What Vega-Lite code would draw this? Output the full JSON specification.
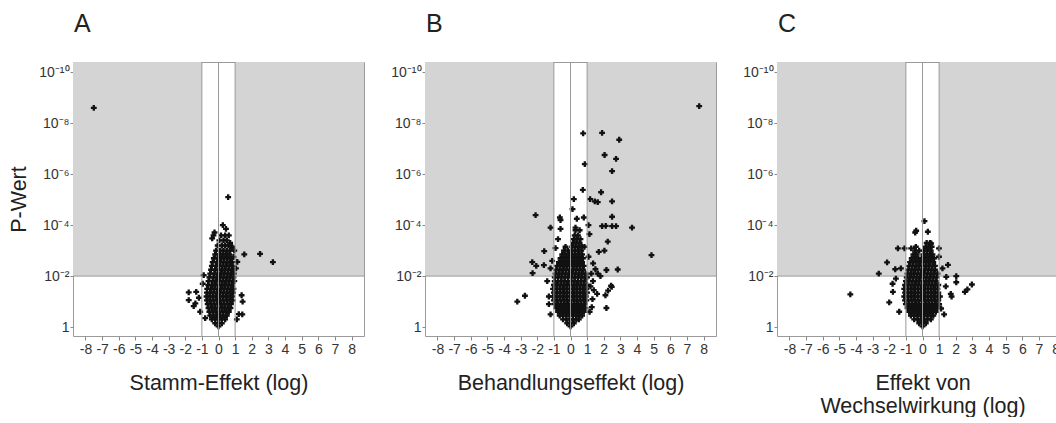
{
"$schema": "https://vega.github.io/schema/vega-lite/v6.json",
"background": "white",
"padding": {"left": 8, "top": 11, "right": 0, "bottom": 0},
"bounds": "flush",
"spacing": 61,
"config": {
 "font": "Liberation Sans",
 "view": {"stroke": "#9a9a9a", "strokeWidth": 1},
 "axis": {"grid": false, "domain": false, "tickColor": "#8a8a8a", "labelColor": "#333", "titleColor": "#222", "labelFont": "Liberation Sans", "titleFont": "Liberation Sans", "titleFontWeight": "normal", "labelFontSize": 14, "titleFontSize": 21.5},
 "title": {"fontSize": 25, "fontWeight": "normal", "anchor": "start", "frame": "group", "color": "#222", "font": "Liberation Sans", "offset": 25, "dx": 1}
},
"datasets": {
 "bg": [{"x": -8.75, "x2": -1, "y": 2, "y2": 10.4}, {"x": 1, "x2": 8.75, "y": 2, "y2": 10.4}],
 "vr": [{"x": -1, "y": -0.35, "y2": 10.4}, {"x": 0, "y": -0.35, "y2": 10.4}, {"x": 1, "y": -0.35, "y2": 10.4}],
 "hr": [{"x": -8.75, "x2": 8.75, "y": 2}],
 "A": [
  {"x":0,"y":0.03},
  {"x":-0.2,"y":0.15},{"x":0,"y":0.15},{"x":0.2,"y":0.15},
  {"x":-0.4,"y":0.3},{"x":-0.2,"y":0.3},{"x":0,"y":0.3},{"x":0.2,"y":0.3},{"x":0.4,"y":0.3},
  {"x":-0.5,"y":0.45},{"x":-0.3,"y":0.45},{"x":-0.1,"y":0.45},{"x":0.1,"y":0.45},{"x":0.3,"y":0.45},{"x":0.5,"y":0.45},
  {"x":-0.55,"y":0.6},{"x":-0.35,"y":0.6},{"x":-0.15,"y":0.6},{"x":0.05,"y":0.6},{"x":0.25,"y":0.6},{"x":0.45,"y":0.6},{"x":0.62,"y":0.6},
  {"x":-0.6,"y":0.75},{"x":-0.4,"y":0.75},{"x":-0.2,"y":0.75},{"x":0,"y":0.75},{"x":0.2,"y":0.75},{"x":0.4,"y":0.75},{"x":0.6,"y":0.75},{"x":0.72,"y":0.75},
  {"x":-0.65,"y":0.9},{"x":-0.45,"y":0.9},{"x":-0.25,"y":0.9},{"x":-0.05,"y":0.9},{"x":0.15,"y":0.9},{"x":0.35,"y":0.9},{"x":0.55,"y":0.9},{"x":0.75,"y":0.9},
  {"x":-0.7,"y":1.05},{"x":-0.5,"y":1.05},{"x":-0.3,"y":1.05},{"x":-0.1,"y":1.05},{"x":0.1,"y":1.05},{"x":0.3,"y":1.05},{"x":0.5,"y":1.05},{"x":0.7,"y":1.05},{"x":0.85,"y":1.05},
  {"x":-0.72,"y":1.2},{"x":-0.55,"y":1.2},{"x":-0.35,"y":1.2},{"x":-0.15,"y":1.2},{"x":0.05,"y":1.2},{"x":0.25,"y":1.2},{"x":0.45,"y":1.2},{"x":0.65,"y":1.2},{"x":0.82,"y":1.2},
  {"x":-0.7,"y":1.35},{"x":-0.5,"y":1.35},{"x":-0.3,"y":1.35},{"x":-0.1,"y":1.35},{"x":0.1,"y":1.35},{"x":0.3,"y":1.35},{"x":0.5,"y":1.35},{"x":0.7,"y":1.35},{"x":0.88,"y":1.35},
  {"x":-0.68,"y":1.5},{"x":-0.45,"y":1.5},{"x":-0.25,"y":1.5},{"x":-0.05,"y":1.5},{"x":0.15,"y":1.5},{"x":0.35,"y":1.5},{"x":0.55,"y":1.5},{"x":0.75,"y":1.5},{"x":0.9,"y":1.5},
  {"x":-0.62,"y":1.65},{"x":-0.4,"y":1.65},{"x":-0.2,"y":1.65},{"x":0,"y":1.65},{"x":0.2,"y":1.65},{"x":0.4,"y":1.65},{"x":0.6,"y":1.65},{"x":0.8,"y":1.65},
  {"x":-0.6,"y":1.8},{"x":-0.35,"y":1.8},{"x":-0.15,"y":1.8},{"x":0.05,"y":1.8},{"x":0.25,"y":1.8},{"x":0.45,"y":1.8},{"x":0.65,"y":1.8},{"x":0.85,"y":1.8},{"x":0.95,"y":1.8},
  {"x":-0.55,"y":1.95},{"x":-0.3,"y":1.95},{"x":-0.1,"y":1.95},{"x":0.1,"y":1.95},{"x":0.3,"y":1.95},{"x":0.5,"y":1.95},{"x":0.7,"y":1.95},{"x":0.9,"y":1.95},
  {"x":-0.5,"y":2.1},{"x":-0.25,"y":2.1},{"x":-0.05,"y":2.1},{"x":0.15,"y":2.1},{"x":0.35,"y":2.1},{"x":0.55,"y":2.1},{"x":0.75,"y":2.1},{"x":0.92,"y":2.1},
  {"x":-0.45,"y":2.25},{"x":-0.2,"y":2.25},{"x":0,"y":2.25},{"x":0.2,"y":2.25},{"x":0.4,"y":2.25},{"x":0.6,"y":2.25},{"x":0.8,"y":2.25},
  {"x":-0.4,"y":2.4},{"x":-0.15,"y":2.4},{"x":0.05,"y":2.4},{"x":0.25,"y":2.4},{"x":0.45,"y":2.4},{"x":0.65,"y":2.4},{"x":0.85,"y":2.4},
  {"x":-0.35,"y":2.55},{"x":-0.1,"y":2.55},{"x":0.1,"y":2.55},{"x":0.3,"y":2.55},{"x":0.5,"y":2.55},{"x":0.7,"y":2.55},{"x":0.82,"y":2.55},
  {"x":-0.28,"y":2.7},{"x":-0.05,"y":2.7},{"x":0.15,"y":2.7},{"x":0.35,"y":2.7},{"x":0.55,"y":2.7},{"x":0.75,"y":2.7},
  {"x":-0.2,"y":2.85},{"x":0.05,"y":2.85},{"x":0.25,"y":2.85},{"x":0.45,"y":2.85},{"x":0.65,"y":2.85},
  {"x":-0.15,"y":3.0},{"x":0.1,"y":3.0},{"x":0.3,"y":3.0},{"x":0.5,"y":3.0},{"x":0.7,"y":3.0},
  {"x":-0.05,"y":3.2},{"x":0.2,"y":3.2},{"x":0.4,"y":3.2},{"x":0.6,"y":3.2},
  {"x":0.05,"y":3.4},{"x":0.3,"y":3.4},{"x":0.5,"y":3.4},
  {"x":-0.3,"y":3.6},{"x":0.15,"y":3.6},{"x":0.4,"y":3.6},
  {"x":-7.5,"y":8.6},{"x":0.58,"y":5.1},{"x":1.55,"y":2.85},{"x":2.5,"y":2.87},{"x":3.27,"y":2.55},
  {"x":-1.79,"y":1.36},{"x":-1.79,"y":1.06},{"x":-1.34,"y":1.38},{"x":-1.39,"y":0.93},{"x":-1.18,"y":1.15},{"x":-1.49,"y":0.82},
  {"x":-0.89,"y":2.04},{"x":-0.95,"y":1.7},{"x":1.39,"y":1.25},{"x":1.45,"y":1.0},{"x":1.43,"y":0.5},{"x":1.22,"y":0.51},
  {"x":1.13,"y":2.56},{"x":0.82,"y":3.15},{"x":0.62,"y":3.6},{"x":0.26,"y":4.0},{"x":-0.24,"y":3.71},{"x":-0.38,"y":3.48},
  {"x":0.9,"y":2.75},{"x":1.05,"y":2.3},{"x":-1.1,"y":0.6},{"x":1.1,"y":0.3},{"x":-0.8,"y":0.35},{"x":0.95,"y":3.0},{"x":0.45,"y":3.85},{"x":0.7,"y":3.3}
 ],
 "B": [
  {"x":0,"y":0.03},
  {"x":-0.2,"y":0.15},{"x":0,"y":0.15},{"x":0.2,"y":0.15},
  {"x":-0.45,"y":0.3},{"x":-0.25,"y":0.3},{"x":-0.05,"y":0.3},{"x":0.15,"y":0.3},{"x":0.35,"y":0.3},{"x":0.5,"y":0.3},
  {"x":-0.65,"y":0.45},{"x":-0.45,"y":0.45},{"x":-0.25,"y":0.45},{"x":-0.05,"y":0.45},{"x":0.15,"y":0.45},{"x":0.35,"y":0.45},{"x":0.55,"y":0.45},{"x":0.7,"y":0.45},
  {"x":-0.75,"y":0.6},{"x":-0.55,"y":0.6},{"x":-0.35,"y":0.6},{"x":-0.15,"y":0.6},{"x":0.05,"y":0.6},{"x":0.25,"y":0.6},{"x":0.45,"y":0.6},{"x":0.65,"y":0.6},{"x":0.8,"y":0.6},
  {"x":-0.85,"y":0.75},{"x":-0.65,"y":0.75},{"x":-0.45,"y":0.75},{"x":-0.25,"y":0.75},{"x":-0.05,"y":0.75},{"x":0.15,"y":0.75},{"x":0.35,"y":0.75},{"x":0.55,"y":0.75},{"x":0.75,"y":0.75},{"x":0.9,"y":0.75},
  {"x":-0.95,"y":0.9},{"x":-0.75,"y":0.9},{"x":-0.55,"y":0.9},{"x":-0.35,"y":0.9},{"x":-0.15,"y":0.9},{"x":0.05,"y":0.9},{"x":0.25,"y":0.9},{"x":0.45,"y":0.9},{"x":0.65,"y":0.9},{"x":0.85,"y":0.9},
  {"x":-1.0,"y":1.05},{"x":-0.8,"y":1.05},{"x":-0.6,"y":1.05},{"x":-0.4,"y":1.05},{"x":-0.2,"y":1.05},{"x":0,"y":1.05},{"x":0.2,"y":1.05},{"x":0.4,"y":1.05},{"x":0.6,"y":1.05},{"x":0.8,"y":1.05},{"x":0.95,"y":1.05},
  {"x":-1.05,"y":1.2},{"x":-0.85,"y":1.2},{"x":-0.65,"y":1.2},{"x":-0.45,"y":1.2},{"x":-0.25,"y":1.2},{"x":-0.05,"y":1.2},{"x":0.15,"y":1.2},{"x":0.35,"y":1.2},{"x":0.55,"y":1.2},{"x":0.75,"y":1.2},{"x":0.92,"y":1.2},
  {"x":-1.0,"y":1.35},{"x":-0.8,"y":1.35},{"x":-0.6,"y":1.35},{"x":-0.4,"y":1.35},{"x":-0.2,"y":1.35},{"x":0,"y":1.35},{"x":0.2,"y":1.35},{"x":0.4,"y":1.35},{"x":0.6,"y":1.35},{"x":0.8,"y":1.35},{"x":1.0,"y":1.35},
  {"x":-1.05,"y":1.5},{"x":-0.85,"y":1.5},{"x":-0.65,"y":1.5},{"x":-0.45,"y":1.5},{"x":-0.25,"y":1.5},{"x":-0.05,"y":1.5},{"x":0.15,"y":1.5},{"x":0.35,"y":1.5},{"x":0.55,"y":1.5},{"x":0.75,"y":1.5},{"x":0.95,"y":1.5},
  {"x":-1.0,"y":1.65},{"x":-0.8,"y":1.65},{"x":-0.6,"y":1.65},{"x":-0.4,"y":1.65},{"x":-0.2,"y":1.65},{"x":0,"y":1.65},{"x":0.2,"y":1.65},{"x":0.4,"y":1.65},{"x":0.6,"y":1.65},{"x":0.8,"y":1.65},{"x":1.0,"y":1.65},
  {"x":-0.95,"y":1.8},{"x":-0.75,"y":1.8},{"x":-0.55,"y":1.8},{"x":-0.35,"y":1.8},{"x":-0.15,"y":1.8},{"x":0.05,"y":1.8},{"x":0.25,"y":1.8},{"x":0.45,"y":1.8},{"x":0.65,"y":1.8},{"x":0.85,"y":1.8},
  {"x":-0.95,"y":1.95},{"x":-0.75,"y":1.95},{"x":-0.55,"y":1.95},{"x":-0.35,"y":1.95},{"x":-0.15,"y":1.95},{"x":0.05,"y":1.95},{"x":0.25,"y":1.95},{"x":0.45,"y":1.95},{"x":0.65,"y":1.95},{"x":0.85,"y":1.95},{"x":1.0,"y":1.95},
  {"x":-0.9,"y":2.1},{"x":-0.7,"y":2.1},{"x":-0.5,"y":2.1},{"x":-0.3,"y":2.1},{"x":-0.1,"y":2.1},{"x":0.1,"y":2.1},{"x":0.3,"y":2.1},{"x":0.5,"y":2.1},{"x":0.7,"y":2.1},{"x":0.9,"y":2.1},
  {"x":-0.85,"y":2.25},{"x":-0.65,"y":2.25},{"x":-0.45,"y":2.25},{"x":-0.25,"y":2.25},{"x":-0.05,"y":2.25},{"x":0.15,"y":2.25},{"x":0.35,"y":2.25},{"x":0.55,"y":2.25},{"x":0.75,"y":2.25},
  {"x":-0.8,"y":2.4},{"x":-0.6,"y":2.4},{"x":-0.4,"y":2.4},{"x":-0.2,"y":2.4},{"x":0,"y":2.4},{"x":0.2,"y":2.4},{"x":0.4,"y":2.4},{"x":0.6,"y":2.4},{"x":0.8,"y":2.4},
  {"x":-0.7,"y":2.55},{"x":-0.5,"y":2.55},{"x":-0.3,"y":2.55},{"x":-0.1,"y":2.55},{"x":0.1,"y":2.55},{"x":0.3,"y":2.55},{"x":0.5,"y":2.55},{"x":0.7,"y":2.55},
  {"x":-0.6,"y":2.7},{"x":-0.4,"y":2.7},{"x":-0.2,"y":2.7},{"x":0,"y":2.7},{"x":0.2,"y":2.7},{"x":0.4,"y":2.7},{"x":0.6,"y":2.7},{"x":0.75,"y":2.7},
  {"x":-0.5,"y":2.85},{"x":-0.3,"y":2.85},{"x":-0.1,"y":2.85},{"x":0.1,"y":2.85},{"x":0.3,"y":2.85},{"x":0.5,"y":2.85},{"x":0.7,"y":2.85},
  {"x":-0.4,"y":3.0},{"x":-0.15,"y":3.0},{"x":0.05,"y":3.0},{"x":0.25,"y":3.0},{"x":0.45,"y":3.0},{"x":0.65,"y":3.0},
  {"x":-0.3,"y":3.15},{"x":0.1,"y":3.15},{"x":0.3,"y":3.15},{"x":0.5,"y":3.15},{"x":0.7,"y":3.15},
  {"x":0.15,"y":3.3},{"x":0.35,"y":3.3},{"x":0.55,"y":3.3},
  {"x":0.2,"y":3.45},{"x":0.4,"y":3.45},{"x":0.6,"y":3.45},
  {"x":0.25,"y":3.6},{"x":0.45,"y":3.6},
  {"x":0.3,"y":3.8},{"x":0.55,"y":3.8},
  {"x":7.74,"y":8.67},{"x":0.76,"y":7.6},{"x":1.9,"y":7.62},{"x":2.93,"y":7.35},{"x":2.05,"y":6.75},{"x":2.74,"y":6.6},{"x":2.5,"y":6.12},{"x":0.86,"y":6.39},
  {"x":0.74,"y":5.38},{"x":1.84,"y":5.29},{"x":1.18,"y":5.02},{"x":1.46,"y":4.93},{"x":1.64,"y":4.9},{"x":2.5,"y":4.93},{"x":2.5,"y":4.33},{"x":-2.1,"y":4.39},
  {"x":-1.2,"y":3.9},{"x":-0.64,"y":4.3},{"x":-0.6,"y":4.2},{"x":-0.6,"y":3.85},{"x":0.2,"y":5.02},{"x":0.12,"y":4.63},{"x":0.38,"y":4.25},{"x":0.3,"y":3.9},
  {"x":0.8,"y":4.3},{"x":1.08,"y":4.0},{"x":1.14,"y":3.65},{"x":2.12,"y":3.97},{"x":2.5,"y":3.96},{"x":2.74,"y":3.96},{"x":1.9,"y":3.96},{"x":3.7,"y":3.9},
  {"x":4.87,"y":2.82},{"x":2.24,"y":3.35},{"x":1.7,"y":2.95},{"x":2.04,"y":3.0},{"x":2.84,"y":2.26},{"x":2.16,"y":2.24},{"x":1.64,"y":2.1},{"x":1.5,"y":2.27},
  {"x":1.36,"y":2.5},{"x":1.08,"y":2.76},{"x":0.84,"y":3.15},{"x":-1.58,"y":2.98},{"x":-2.3,"y":2.55},{"x":-2.06,"y":2.4},{"x":-2.28,"y":2.12},{"x":-1.6,"y":2.43},
  {"x":-3.2,"y":1.0},{"x":-2.74,"y":1.23},{"x":2.16,"y":0.75},{"x":2.1,"y":1.25},{"x":2.48,"y":1.58},{"x":2.44,"y":1.62},{"x":2.26,"y":1.43},{"x":1.4,"y":1.45},
  {"x":1.35,"y":1.8},{"x":1.32,"y":1.1},{"x":1.28,"y":0.78},{"x":-1.3,"y":1.2},{"x":-1.4,"y":1.8},{"x":-1.2,"y":2.3},{"x":1.2,"y":1.6},{"x":1.25,"y":2.1},
  {"x":1.15,"y":0.6},{"x":-1.1,"y":2.6},{"x":-0.9,"y":3.1},{"x":-0.75,"y":3.45},{"x":-1.2,"y":0.5},{"x":-1.3,"y":0.9},{"x":1.6,"y":1.3},{"x":1.8,"y":2.0}
 ],
 "C": [
  {"x":0,"y":0.03},
  {"x":-0.2,"y":0.15},{"x":0,"y":0.15},{"x":0.2,"y":0.15},
  {"x":-0.5,"y":0.3},{"x":-0.3,"y":0.3},{"x":-0.1,"y":0.3},{"x":0.1,"y":0.3},{"x":0.3,"y":0.3},{"x":0.5,"y":0.3},
  {"x":-0.7,"y":0.45},{"x":-0.5,"y":0.45},{"x":-0.3,"y":0.45},{"x":-0.1,"y":0.45},{"x":0.1,"y":0.45},{"x":0.3,"y":0.45},{"x":0.5,"y":0.45},{"x":0.65,"y":0.45},
  {"x":-0.8,"y":0.6},{"x":-0.6,"y":0.6},{"x":-0.4,"y":0.6},{"x":-0.2,"y":0.6},{"x":0,"y":0.6},{"x":0.2,"y":0.6},{"x":0.4,"y":0.6},{"x":0.6,"y":0.6},{"x":0.8,"y":0.6},
  {"x":-0.9,"y":0.75},{"x":-0.7,"y":0.75},{"x":-0.5,"y":0.75},{"x":-0.3,"y":0.75},{"x":-0.1,"y":0.75},{"x":0.1,"y":0.75},{"x":0.3,"y":0.75},{"x":0.5,"y":0.75},{"x":0.7,"y":0.75},{"x":0.88,"y":0.75},
  {"x":-1.0,"y":0.9},{"x":-0.8,"y":0.9},{"x":-0.6,"y":0.9},{"x":-0.4,"y":0.9},{"x":-0.2,"y":0.9},{"x":0,"y":0.9},{"x":0.2,"y":0.9},{"x":0.4,"y":0.9},{"x":0.6,"y":0.9},{"x":0.8,"y":0.9},{"x":1.0,"y":0.9},
  {"x":-1.05,"y":1.05},{"x":-0.85,"y":1.05},{"x":-0.65,"y":1.05},{"x":-0.45,"y":1.05},{"x":-0.25,"y":1.05},{"x":-0.05,"y":1.05},{"x":0.15,"y":1.05},{"x":0.35,"y":1.05},{"x":0.55,"y":1.05},{"x":0.75,"y":1.05},{"x":0.95,"y":1.05},
  {"x":-1.1,"y":1.2},{"x":-0.9,"y":1.2},{"x":-0.7,"y":1.2},{"x":-0.5,"y":1.2},{"x":-0.3,"y":1.2},{"x":-0.1,"y":1.2},{"x":0.1,"y":1.2},{"x":0.3,"y":1.2},{"x":0.5,"y":1.2},{"x":0.7,"y":1.2},{"x":0.9,"y":1.2},{"x":1.05,"y":1.2},
  {"x":-1.05,"y":1.35},{"x":-0.85,"y":1.35},{"x":-0.65,"y":1.35},{"x":-0.45,"y":1.35},{"x":-0.25,"y":1.35},{"x":-0.05,"y":1.35},{"x":0.15,"y":1.35},{"x":0.35,"y":1.35},{"x":0.55,"y":1.35},{"x":0.75,"y":1.35},{"x":0.95,"y":1.35},
  {"x":-1.1,"y":1.5},{"x":-0.9,"y":1.5},{"x":-0.7,"y":1.5},{"x":-0.5,"y":1.5},{"x":-0.3,"y":1.5},{"x":-0.1,"y":1.5},{"x":0.1,"y":1.5},{"x":0.3,"y":1.5},{"x":0.5,"y":1.5},{"x":0.7,"y":1.5},{"x":0.9,"y":1.5},
  {"x":-1.05,"y":1.65},{"x":-0.85,"y":1.65},{"x":-0.65,"y":1.65},{"x":-0.45,"y":1.65},{"x":-0.25,"y":1.65},{"x":-0.05,"y":1.65},{"x":0.15,"y":1.65},{"x":0.35,"y":1.65},{"x":0.55,"y":1.65},{"x":0.75,"y":1.65},{"x":0.95,"y":1.65},
  {"x":-1.0,"y":1.8},{"x":-0.8,"y":1.8},{"x":-0.6,"y":1.8},{"x":-0.4,"y":1.8},{"x":-0.2,"y":1.8},{"x":0,"y":1.8},{"x":0.2,"y":1.8},{"x":0.4,"y":1.8},{"x":0.6,"y":1.8},{"x":0.8,"y":1.8},
  {"x":-0.95,"y":1.95},{"x":-0.75,"y":1.95},{"x":-0.55,"y":1.95},{"x":-0.35,"y":1.95},{"x":-0.15,"y":1.95},{"x":0.05,"y":1.95},{"x":0.25,"y":1.95},{"x":0.45,"y":1.95},{"x":0.65,"y":1.95},{"x":0.85,"y":1.95},
  {"x":-0.9,"y":2.1},{"x":-0.7,"y":2.1},{"x":-0.5,"y":2.1},{"x":-0.3,"y":2.1},{"x":-0.1,"y":2.1},{"x":0.1,"y":2.1},{"x":0.3,"y":2.1},{"x":0.5,"y":2.1},{"x":0.7,"y":2.1},{"x":0.9,"y":2.1},
  {"x":-0.85,"y":2.25},{"x":-0.65,"y":2.25},{"x":-0.45,"y":2.25},{"x":-0.25,"y":2.25},{"x":-0.05,"y":2.25},{"x":0.15,"y":2.25},{"x":0.35,"y":2.25},{"x":0.55,"y":2.25},{"x":0.75,"y":2.25},
  {"x":-0.8,"y":2.4},{"x":-0.6,"y":2.4},{"x":-0.4,"y":2.4},{"x":-0.2,"y":2.4},{"x":0,"y":2.4},{"x":0.2,"y":2.4},{"x":0.4,"y":2.4},{"x":0.6,"y":2.4},{"x":0.75,"y":2.4},
  {"x":-0.75,"y":2.55},{"x":-0.55,"y":2.55},{"x":-0.35,"y":2.55},{"x":-0.15,"y":2.55},{"x":0.05,"y":2.55},{"x":0.25,"y":2.55},{"x":0.45,"y":2.55},{"x":0.65,"y":2.55},
  {"x":-0.65,"y":2.7},{"x":-0.45,"y":2.7},{"x":-0.25,"y":2.7},{"x":-0.05,"y":2.7},{"x":0.15,"y":2.7},{"x":0.35,"y":2.7},{"x":0.55,"y":2.7},{"x":0.7,"y":2.7},
  {"x":-0.55,"y":2.85},{"x":-0.35,"y":2.85},{"x":0.05,"y":2.85},{"x":0.25,"y":2.85},{"x":0.45,"y":2.85},{"x":0.6,"y":2.85},
  {"x":-0.45,"y":3.0},{"x":-0.2,"y":3.0},{"x":0.1,"y":3.0},{"x":0.3,"y":3.0},{"x":0.5,"y":3.0},
  {"x":-0.4,"y":3.15},{"x":0.2,"y":3.15},{"x":0.4,"y":3.15},{"x":0.55,"y":3.15},
  {"x":0.25,"y":3.3},{"x":0.45,"y":3.3},
  {"x":-4.34,"y":1.28},{"x":-2.63,"y":2.1},{"x":-2.13,"y":2.54},{"x":-1.64,"y":2.27},{"x":-1.48,"y":3.09},{"x":-1.08,"y":3.09},{"x":-0.68,"y":3.09},
  {"x":-1.8,"y":1.7},{"x":-1.78,"y":1.38},{"x":-2.0,"y":0.97},{"x":2.03,"y":2.0},{"x":2.03,"y":1.76},{"x":2.55,"y":1.38},{"x":2.7,"y":1.48},{"x":2.97,"y":1.67},
  {"x":1.7,"y":1.3},{"x":1.75,"y":1.2},{"x":1.12,"y":0.73},{"x":1.53,"y":2.44},{"x":1.43,"y":1.97},{"x":0.99,"y":3.09},{"x":0.99,"y":2.76},{"x":0.12,"y":4.16},
  {"x":-0.44,"y":3.71},{"x":-0.38,"y":3.78},{"x":0.32,"y":3.74},{"x":0.52,"y":3.28},{"x":-1.4,"y":0.6},{"x":1.3,"y":0.5},{"x":-1.3,"y":2.3},{"x":1.2,"y":2.3},
  {"x":-1.6,"y":1.9},{"x":1.4,"y":1.6}
 ]
},
"hconcat": [
 {
  "width": 291, "height": 274,
  "title": {"text": "A"},
  "encoding": {
   "x": {"field": "x", "type": "quantitative", "scale": {"domain": [-8.75, 8.75], "nice": false, "zero": false},
     "axis": {"title": "Stamm-Effekt (log)", "values": [-8,-7,-6,-5,-4,-3,-2,-1,0,1,2,3,4,5,6,7,8], "labelExpr": "datum.value < 0 ? '-' + abs(datum.value) : '' + datum.value", "tickSize": 4, "labelPadding": 2, "titlePadding": 16, "labelFlush": false, "labelOverlap": false}},
   "y": {"field": "y", "type": "quantitative", "scale": {"domain": [-0.35, 10.4], "nice": false, "zero": false},
     "axis": {"title": "P-Wert", "values": [0,2,4,6,8,10], "tickSize": 3, "labelPadding": 1, "titlePadding": 8, "labelExpr": "datum.value == 0 ? '1' : datum.value == 2 ? '10⁻²' : datum.value == 4 ? '10⁻⁴' : datum.value == 6 ? '10⁻⁶' : datum.value == 8 ? '10⁻⁸' : '10⁻¹⁰'"}}
  },
  "layer": [
   {"data": {"name": "bg"}, "mark": {"type": "rect", "color": "#d4d4d4"}, "encoding": {"x2": {"field": "x2"}, "y2": {"field": "y2"}}},
   {"data": {"name": "hr"}, "mark": {"type": "rule", "color": "#9a9a9a", "strokeWidth": 1}, "encoding": {"x2": {"field": "x2"}}},
   {"data": {"name": "A"}, "mark": {"type": "point", "shape": "cross", "filled": true, "size": 34, "color": "#111", "opacity": 1}, "encoding": {}},
   {"data": {"name": "vr"}, "mark": {"type": "rule", "color": "#9a9a9a", "strokeWidth": 1}, "encoding": {"y2": {"field": "y2"}}}
  ]
 },
 {
  "width": 291, "height": 274,
  "title": {"text": "B"},
  "encoding": {
   "x": {"field": "x", "type": "quantitative", "scale": {"domain": [-8.75, 8.75], "nice": false, "zero": false},
     "axis": {"title": "Behandlungseffekt (log)", "values": [-8,-7,-6,-5,-4,-3,-2,-1,0,1,2,3,4,5,6,7,8], "labelExpr": "datum.value < 0 ? '-' + abs(datum.value) : '' + datum.value", "tickSize": 4, "labelPadding": 2, "titlePadding": 16, "labelFlush": false, "labelOverlap": false}},
   "y": {"field": "y", "type": "quantitative", "scale": {"domain": [-0.35, 10.4], "nice": false, "zero": false},
     "axis": {"title": null, "values": [0,2,4,6,8,10], "tickSize": 3, "labelPadding": 1, "labelExpr": "datum.value == 0 ? '1' : datum.value == 2 ? '10⁻²' : datum.value == 4 ? '10⁻⁴' : datum.value == 6 ? '10⁻⁶' : datum.value == 8 ? '10⁻⁸' : '10⁻¹⁰'"}}
  },
  "layer": [
   {"data": {"name": "bg"}, "mark": {"type": "rect", "color": "#d4d4d4"}, "encoding": {"x2": {"field": "x2"}, "y2": {"field": "y2"}}},
   {"data": {"name": "hr"}, "mark": {"type": "rule", "color": "#9a9a9a", "strokeWidth": 1}, "encoding": {"x2": {"field": "x2"}}},
   {"data": {"name": "B"}, "mark": {"type": "point", "shape": "cross", "filled": true, "size": 34, "color": "#111", "opacity": 1}, "encoding": {}},
   {"data": {"name": "vr"}, "mark": {"type": "rule", "color": "#9a9a9a", "strokeWidth": 1}, "encoding": {"y2": {"field": "y2"}}}
  ]
 },
 {
  "width": 291, "height": 274,
  "title": {"text": "C"},
  "encoding": {
   "x": {"field": "x", "type": "quantitative", "scale": {"domain": [-8.75, 8.75], "nice": false, "zero": false},
     "axis": {"title": ["Effekt von", "Wechselwirkung (log)"], "values": [-8,-7,-6,-5,-4,-3,-2,-1,0,1,2,3,4,5,6,7,8], "labelExpr": "datum.value < 0 ? '-' + abs(datum.value) : '' + datum.value", "tickSize": 4, "labelPadding": 2, "titlePadding": 16, "labelFlush": false, "labelOverlap": false, "titleLineHeight": 23}},
   "y": {"field": "y", "type": "quantitative", "scale": {"domain": [-0.35, 10.4], "nice": false, "zero": false},
     "axis": {"title": null, "values": [0,2,4,6,8,10], "tickSize": 3, "labelPadding": 1, "labelExpr": "datum.value == 0 ? '1' : datum.value == 2 ? '10⁻²' : datum.value == 4 ? '10⁻⁴' : datum.value == 6 ? '10⁻⁶' : datum.value == 8 ? '10⁻⁸' : '10⁻¹⁰'"}}
  },
  "layer": [
   {"data": {"name": "bg"}, "mark": {"type": "rect", "color": "#d4d4d4"}, "encoding": {"x2": {"field": "x2"}, "y2": {"field": "y2"}}},
   {"data": {"name": "hr"}, "mark": {"type": "rule", "color": "#9a9a9a", "strokeWidth": 1}, "encoding": {"x2": {"field": "x2"}}},
   {"data": {"name": "C"}, "mark": {"type": "point", "shape": "cross", "filled": true, "size": 34, "color": "#111", "opacity": 1}, "encoding": {}},
   {"data": {"name": "vr"}, "mark": {"type": "rule", "color": "#9a9a9a", "strokeWidth": 1}, "encoding": {"y2": {"field": "y2"}}}
  ]
 }
]
}
